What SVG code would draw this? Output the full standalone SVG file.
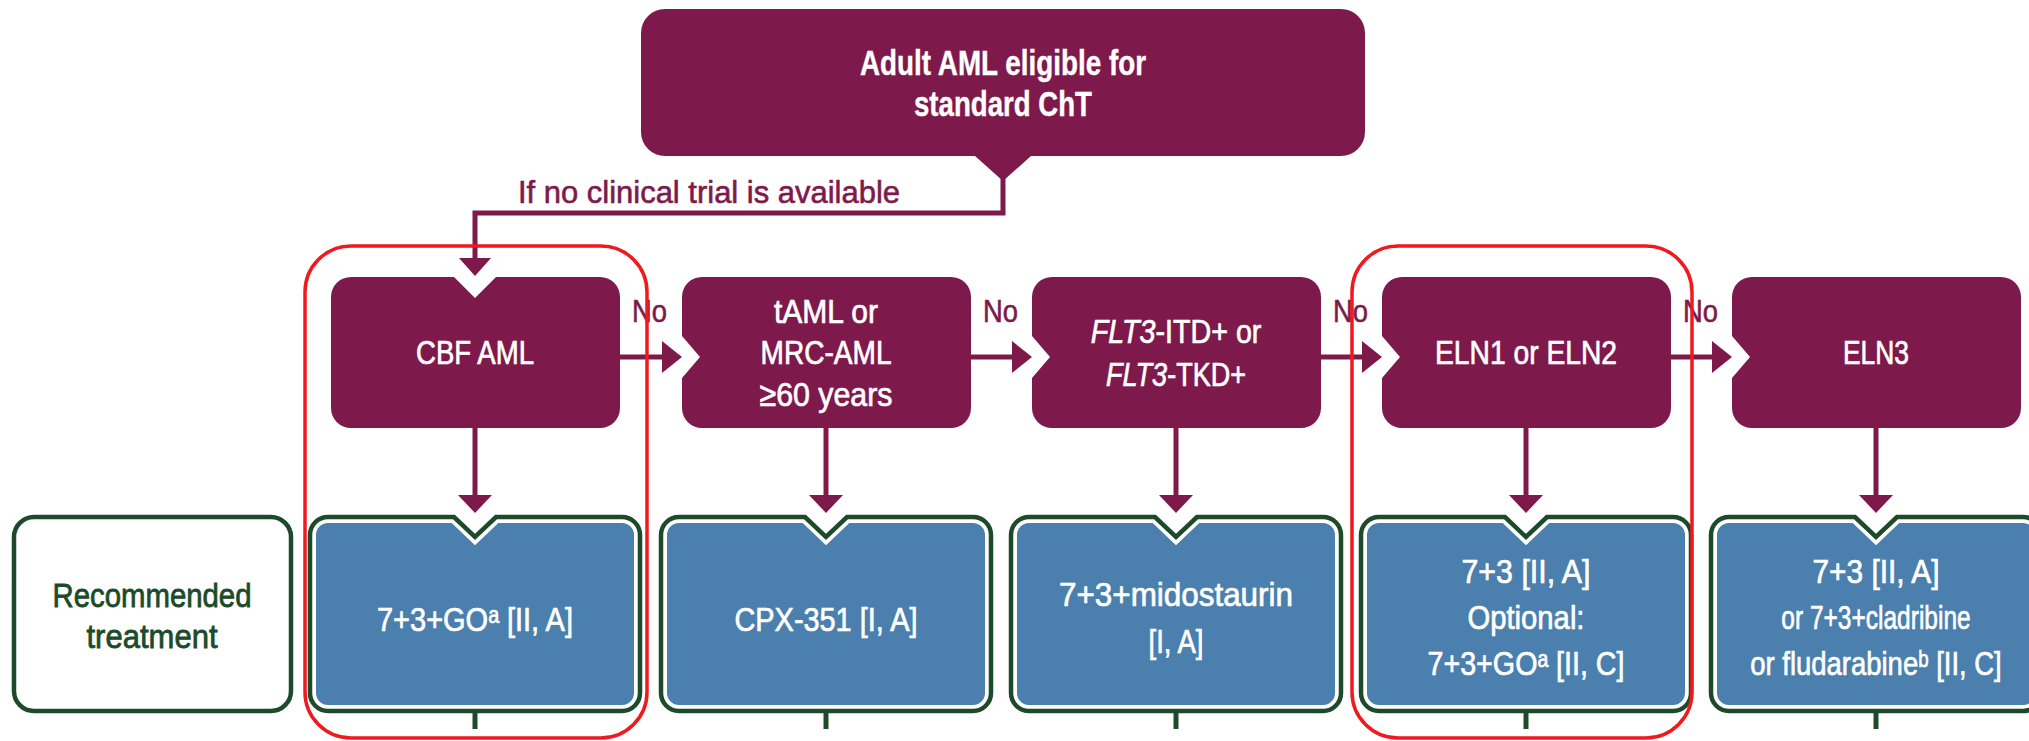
<svg xmlns="http://www.w3.org/2000/svg" width="2029" height="741" viewBox="0 0 2029 741">
  <style>
    .mag { fill: #7e1a4b; }
    .line { stroke: #7e1a4b; stroke-width: 5; fill: none; }
    .head { fill: #7e1a4b; }
    .tw { fill: #ffffff; stroke: #ffffff; stroke-width: 0.7; font-family: "Liberation Sans Narrow", "Liberation Sans", "DejaVu Sans", Arial, sans-serif; font-size: 34px; text-anchor: middle; }
    .ts { fill: #ffffff; stroke: #ffffff; stroke-width: 0.7; font-family: "Liberation Sans", "DejaVu Sans", Arial, sans-serif; font-size: 34px; text-anchor: middle; }
    .tb { font-weight: bold; font-size: 35px; stroke-width: 0.4; }
    .tm { fill: #7e1a4b; stroke: #7e1a4b; stroke-width: 0.6; font-family: "Liberation Sans Narrow", "Liberation Sans", Arial, sans-serif; font-size: 31px; }
    .tg { fill: #1c4a2a; stroke: #1c4a2a; stroke-width: 0.8; font-family: "Liberation Sans Narrow", "Liberation Sans", Arial, sans-serif; font-size: 34px; text-anchor: middle; }
    .treat-halo { fill: #4b7fae; stroke: #ffffff; stroke-width: 12; stroke-linejoin: miter; }
    .treat-edge { fill: none; stroke: #1c4a2a; stroke-width: 4.5; stroke-linejoin: miter; }
    .tick { stroke: #1c4a2a; stroke-width: 5; }
    .hl { fill: none; stroke: #f0191e; stroke-width: 3.5; }
    .it { font-style: italic; }
  </style>

  <!-- entry node -->
  <g id="node-entry">
    <path class="mag" d="M665,9 H1341 A24,24 0 0 1 1365,33 V132 A24,24 0 0 1 1341,156 H1031 L1003,181 L975,156 H665 A24,24 0 0 1 641,132 V33 A24,24 0 0 1 665,9 Z"/>
    <text class="tw tb" x="1003" y="75" textLength="286" lengthAdjust="spacingAndGlyphs">Adult AML eligible for</text>
    <text class="tw tb" x="1003" y="116" textLength="178" lengthAdjust="spacingAndGlyphs">standard ChT</text>
  </g>

  <!-- decision nodes -->
  <g id="node-cbf">
    <path class="mag" d="M351,277 H454 L475,298 L496,277 H600 A20,20 0 0 1 620,297 V408 A20,20 0 0 1 600,428 H351 A20,20 0 0 1 331,408 V297 A20,20 0 0 1 351,277 Z"/>
    <text class="tw" x="475" y="364" textLength="118" lengthAdjust="spacingAndGlyphs">CBF AML</text>
  </g>
  <g id="node-taml">
    <path class="mag" d="M702,277 H951 A20,20 0 0 1 971,297 V408 A20,20 0 0 1 951,428 H702 A20,20 0 0 1 682,408 V378 L700,357 L682,336 V297 A20,20 0 0 1 702,277 Z"/>
    <text class="tw" x="826" y="323" textLength="104" lengthAdjust="spacingAndGlyphs">tAML or</text>
    <text class="tw" x="826" y="364" textLength="131" lengthAdjust="spacingAndGlyphs">MRC-AML</text>
    <text class="tw" x="826" y="406" textLength="133" lengthAdjust="spacingAndGlyphs">≥60 years</text>
  </g>
  <g id="node-flt3">
    <path class="mag" d="M1052,277 H1301 A20,20 0 0 1 1321,297 V408 A20,20 0 0 1 1301,428 H1052 A20,20 0 0 1 1032,408 V378 L1050,357 L1032,336 V297 A20,20 0 0 1 1052,277 Z"/>
    <text class="ts" transform="translate(1176,343) scale(0.844,1)"><tspan class="it">FLT3</tspan>-ITD+ or</text>
    <text class="ts" transform="translate(1176,386) scale(0.795,1)"><tspan class="it">FLT3</tspan>-TKD+</text>
  </g>
  <g id="node-eln12">
    <path class="mag" d="M1402,277 H1651 A20,20 0 0 1 1671,297 V408 A20,20 0 0 1 1651,428 H1402 A20,20 0 0 1 1382,408 V378 L1400,357 L1382,336 V297 A20,20 0 0 1 1402,277 Z"/>
    <text class="tw" x="1526" y="364" textLength="182" lengthAdjust="spacingAndGlyphs">ELN1 or ELN2</text>
  </g>
  <g id="node-eln3">
    <path class="mag" d="M1752,277 H2001 A20,20 0 0 1 2021,297 V408 A20,20 0 0 1 2001,428 H1752 A20,20 0 0 1 1732,408 V378 L1750,357 L1732,336 V297 A20,20 0 0 1 1752,277 Z"/>
    <text class="tw" x="1876" y="364" textLength="66" lengthAdjust="spacingAndGlyphs">ELN3</text>
  </g>

  <!-- row label -->
  <g id="node-label">
    <rect x="14" y="517" width="277" height="194" rx="20" fill="#ffffff" stroke="#1c4a2a" stroke-width="4.5"/>
    <text class="tg" x="152" y="607" textLength="199" lengthAdjust="spacingAndGlyphs">Recommended</text>
    <text class="tg" x="152" y="648" textLength="131" lengthAdjust="spacingAndGlyphs">treatment</text>
  </g>

  <!-- treatment nodes -->
  <g id="node-rx-cbf">
    <path class="treat-halo" d="M328,517 H454 L475,537 L496,517 H622 A18,18 0 0 1 640,535 V693 A18,18 0 0 1 622,711 H328 A18,18 0 0 1 310,693 V535 A18,18 0 0 1 328,517 Z"/>
    <path class="treat-edge" d="M328,517 H454 L475,537 L496,517 H622 A18,18 0 0 1 640,535 V693 A18,18 0 0 1 622,711 H328 A18,18 0 0 1 310,693 V535 A18,18 0 0 1 328,517 Z"/>
    <text class="tw" x="475" y="631" textLength="196" lengthAdjust="spacingAndGlyphs">7+3+GOᵃ [II, A]</text>
  </g>
  <g id="node-rx-taml">
    <path class="treat-halo" d="M679,517 H805 L826,537 L847,517 H973 A18,18 0 0 1 991,535 V693 A18,18 0 0 1 973,711 H679 A18,18 0 0 1 661,693 V535 A18,18 0 0 1 679,517 Z"/>
    <path class="treat-edge" d="M679,517 H805 L826,537 L847,517 H973 A18,18 0 0 1 991,535 V693 A18,18 0 0 1 973,711 H679 A18,18 0 0 1 661,693 V535 A18,18 0 0 1 679,517 Z"/>
    <text class="tw" x="826" y="631" textLength="183" lengthAdjust="spacingAndGlyphs">CPX-351 [I, A]</text>
  </g>
  <g id="node-rx-flt3">
    <path class="treat-halo" d="M1029,517 H1155 L1176,537 L1197,517 H1323 A18,18 0 0 1 1341,535 V693 A18,18 0 0 1 1323,711 H1029 A18,18 0 0 1 1011,693 V535 A18,18 0 0 1 1029,517 Z"/>
    <path class="treat-edge" d="M1029,517 H1155 L1176,537 L1197,517 H1323 A18,18 0 0 1 1341,535 V693 A18,18 0 0 1 1323,711 H1029 A18,18 0 0 1 1011,693 V535 A18,18 0 0 1 1029,517 Z"/>
    <text class="tw" x="1176" y="606" textLength="234" lengthAdjust="spacingAndGlyphs">7+3+midostaurin</text>
    <text class="tw" x="1176" y="653" textLength="55" lengthAdjust="spacingAndGlyphs">[I, A]</text>
  </g>
  <g id="node-rx-eln12">
    <path class="treat-halo" d="M1379,517 H1505 L1526,537 L1547,517 H1673 A18,18 0 0 1 1691,535 V693 A18,18 0 0 1 1673,711 H1379 A18,18 0 0 1 1361,693 V535 A18,18 0 0 1 1379,517 Z"/>
    <path class="treat-edge" d="M1379,517 H1505 L1526,537 L1547,517 H1673 A18,18 0 0 1 1691,535 V693 A18,18 0 0 1 1673,711 H1379 A18,18 0 0 1 1361,693 V535 A18,18 0 0 1 1379,517 Z"/>
    <text class="tw" x="1526" y="583" textLength="129" lengthAdjust="spacingAndGlyphs">7+3 [II, A]</text>
    <text class="tw" x="1526" y="629" textLength="117" lengthAdjust="spacingAndGlyphs">Optional:</text>
    <text class="tw" x="1526" y="675" textLength="197" lengthAdjust="spacingAndGlyphs">7+3+GOᵃ [II, C]</text>
  </g>
  <g id="node-rx-eln3">
    <path class="treat-halo" d="M1729,517 H1855 L1876,537 L1897,517 H2023 A18,18 0 0 1 2041,535 V693 A18,18 0 0 1 2023,711 H1729 A18,18 0 0 1 1711,693 V535 A18,18 0 0 1 1729,517 Z"/>
    <path class="treat-edge" d="M1729,517 H1855 L1876,537 L1897,517 H2023 A18,18 0 0 1 2041,535 V693 A18,18 0 0 1 2023,711 H1729 A18,18 0 0 1 1711,693 V535 A18,18 0 0 1 1729,517 Z"/>
    <text class="tw" x="1876" y="583" textLength="127" lengthAdjust="spacingAndGlyphs">7+3 [II, A]</text>
    <text class="ts" transform="translate(1876,629) scale(0.721,1)">or 7+3+cladribine</text>
    <text class="ts" transform="translate(1876,675) scale(0.808,1)">or fludarabineᵇ [II, C]</text>
  </g>

  <!-- connectors -->
  <g id="connectors">
    <polyline class="line" points="1003,176 1003,213 475,213 475,260"/>
    <polygon class="head" points="459,258 491,258 475,276"/>
    <text class="tm" x="518" y="203" textLength="382" lengthAdjust="spacingAndGlyphs" font-size="33">If no clinical trial is available</text>

    <line class="line" x1="620" y1="357" x2="664" y2="357"/>
    <polygon class="head" points="662,341 662,373 682,357"/>
    <line class="line" x1="971" y1="357" x2="1014" y2="357"/>
    <polygon class="head" points="1012,341 1012,373 1032,357"/>
    <line class="line" x1="1321" y1="357" x2="1364" y2="357"/>
    <polygon class="head" points="1362,341 1362,373 1382,357"/>
    <line class="line" x1="1671" y1="357" x2="1714" y2="357"/>
    <polygon class="head" points="1712,341 1712,373 1732,357"/>
    <text class="tm" x="632" y="322" textLength="35" lengthAdjust="spacingAndGlyphs">No</text>
    <text class="tm" x="983" y="322" textLength="35" lengthAdjust="spacingAndGlyphs">No</text>
    <text class="tm" x="1333" y="322" textLength="35" lengthAdjust="spacingAndGlyphs">No</text>
    <text class="tm" x="1683" y="322" textLength="35" lengthAdjust="spacingAndGlyphs">No</text>

    <line class="line" x1="475" y1="428" x2="475" y2="497"/>
    <polygon class="head" points="458,495 492,495 475,513"/>
    <line class="line" x1="826" y1="428" x2="826" y2="497"/>
    <polygon class="head" points="809,495 843,495 826,513"/>
    <line class="line" x1="1176" y1="428" x2="1176" y2="497"/>
    <polygon class="head" points="1159,495 1193,495 1176,513"/>
    <line class="line" x1="1526" y1="428" x2="1526" y2="497"/>
    <polygon class="head" points="1509,495 1543,495 1526,513"/>
    <line class="line" x1="1876" y1="428" x2="1876" y2="497"/>
    <polygon class="head" points="1859,495 1893,495 1876,513"/>

    <line class="tick" x1="475" y1="713" x2="475" y2="729"/>
    <line class="tick" x1="826" y1="713" x2="826" y2="729"/>
    <line class="tick" x1="1176" y1="713" x2="1176" y2="729"/>
    <line class="tick" x1="1526" y1="713" x2="1526" y2="729"/>
    <line class="tick" x1="1876" y1="713" x2="1876" y2="729"/>
  </g>

  <!-- highlight frames -->
  <g id="highlights">
    <rect class="hl" x="305" y="246" width="342" height="492" rx="46"/>
    <rect class="hl" x="1352" y="246" width="340" height="492" rx="46"/>
  </g>
</svg>
